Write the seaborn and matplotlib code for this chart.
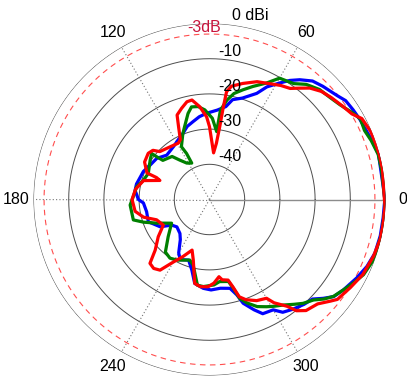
import numpy as np
import pandas as pd
import matplotlib
matplotlib.use("Agg")
import matplotlib.pyplot as plt
import seaborn as sns

# Measured gain patterns (angle in degrees, gain in dBi), listed in trace order
blue_deg = [0, 4, 15, 20, 28, 32, 36, 39, 45, 49, 53, 56, 59, 63, 66, 72, 77, 80, 85, 92,
            97, 102, 107, 112, 118, 124, 134, 142, 150, 157, 168, 173, 180, 183, 191, 200,
            209, 214, 220, 229, 234, 240, 244, 251, 256, 260, 266, 271, 277, 283, 286, 288,
            292, 295, 300, 303, 307, 312, 316, 319, 322, 326, 332, 337, 342, 348, 354, 360]
blue_db = [-0.2, -0.5, -0.3, -0.9, -1.6, -1.9, -2.2, -3.2, -4.5, -5.4, -7.4, -9.2, -11.4,
           -14.1, -17.0, -19.7, -20.9, -23.2, -24.5, -25.5, -26.3, -27.4, -28.3, -29.8,
           -30.9, -31.8, -32.5, -31.0, -30.5, -29.6, -28.8, -28.7, -29.8, -31.2, -31.8,
           -31.5, -34.0, -37.0, -37.9, -37.2, -35.9, -32.5, -31.0, -31.8, -29.3, -25.8,
           -24.7, -24.3, -24.6, -24.1, -21.8, -19.0, -16.2, -14.2, -13.8, -11.8, -10.9,
           -9.9, -9.3, -7.2, -5.2, -4.1, -2.6, -1.4, -0.6, -0.4, -0.4, -0.2]

green_deg = [0, 10, 15, 20, 24, 28, 31, 36, 40, 45, 50, 54, 60, 64, 69, 73, 77, 80, 83, 84,
             88, 93, 97, 101, 104, 109, 112, 118, 116.5, 116, 122, 127, 131, 140, 141,
             141.5, 146, 157, 164, 170, 178, 184, 195, 199, 204, 212, 222, 230, 236, 242,
             252, 256, 262, 266, 273, 277, 283, 285, 287, 290, 294, 298, 301, 305, 309,
             312, 316, 319, 322, 326, 330, 334, 339, 343, 349, 357, 360]
green_db = [-0.2, -0.4, -0.4, -1.1, -1.8, -1.4, -2.4, -4.2, -5.1, -5.8, -7.3, -9.3, -10.2,
            -13.2, -15.6, -17.4, -19.1, -21.3, -24.4, -30.6, -26.9, -24.5, -23.4, -23.2,
            -24.8, -28.2, -29.8, -33.0, -35.4, -38.5, -37.8, -36.0, -33.8, -32.7, -30.7,
            -29.0, -29.7, -31.1, -30.4, -29.0, -28.3, -27.4, -27.6, -30.2, -33.5, -37.3,
            -34.2, -30.5, -29.9, -30.5, -31.9, -30.8, -25.4, -25.2, -25.7, -26.5, -26.1,
            -23.9, -20.6, -18.7, -16.7, -15.5, -14.6, -13.4, -11.7, -10.3, -8.9, -6.9,
            -5.3, -4.1, -2.7, -1.3, -0.5, -0.4, -0.1, -0.1, -0.2]

red_deg = [0, 10, 15, 19, 23, 28, 31, 35, 40, 44, 48, 51, 54, 58, 62, 68, 74, 79, 81, 81.5,
           82, 83, 85, 88, 90, 92, 96, 100, 103, 107, 111, 113, 116, 119, 127, 136, 139,
           143, 150, 157, 157.5, 159, 164, 172, 180, 189, 195, 201, 209, 216, 223, 227,
           231, 235, 240, 245, 251, 255, 260, 264, 269, 273, 277, 279, 283, 285, 287, 290,
           295, 300, 302, 306, 308, 311, 316, 320, 322, 328, 334, 341, 347, 352, 358, 360]
red_db = [-0.3, -0.1, -0.1, -0.2, -0.3, -1.0, -2.8, -3.8, -4.9, -5.8, -7.4, -9.3, -11.0,
          -11.8, -12.8, -13.9, -15.7, -17.2, -19.0, -23.4, -29.1, -33.9, -36.7, -33.1,
          -29.3, -26.5, -23.5, -21.3, -21.5, -22.9, -24.3, -27.5, -31.1, -31.7, -31.3,
          -30.4, -28.7, -28.2, -28.7, -30.7, -33.7, -34.9, -30.5, -28.8, -28.0, -28.6,
          -30.6, -33.9, -35.0, -32.0, -28.9, -25.2, -24.8, -25.5, -29.5, -32.1, -34.8,
          -32.2, -25.8, -25.1, -25.2, -26.2, -27.9, -26.9, -26.5, -24.3, -21.1, -19.7,
          -18.3, -17.6, -15.4, -12.5, -9.9, -8.2, -7.3, -5.1, -3.9, -2.8, -1.5, -0.7,
          -0.2, -0.2, -0.1, -0.3]

ring_values = [-40, -30, -20, -10, 0]
ring_labels = ["-40", "-30", "-20", "-10", "0 dBi"]
spoke_angles = [0, 60, 120, 180, 240, 300]
spoke_labels = ["0", "60", "120", "180", "240", "300"]
r_min, r_max = -50, 0
half_power = -3

frames = []
for name, deg, db in [("blue", blue_deg, blue_db), ("green", green_deg, green_db),
                      ("red", red_deg, red_db)]:
    frames.append(pd.DataFrame({"theta": np.deg2rad(deg), "gain": db, "series": name}))
df = pd.concat(frames, ignore_index=True)

sns.set_style("white")
plt.rcParams["font.family"] = ["Liberation Sans", "DejaVu Sans"]

fig = plt.figure(figsize=(4.07, 3.79), dpi=100)
ax = fig.add_axes([33.5 / 407, 3.5 / 379, 352 / 407, 352 / 379], projection="polar")
ax.set_ylim(r_min, r_max)
ax.grid(False)
ax.set_xticks([])
ax.set_yticks([])
ax.spines["polar"].set_visible(False)

full = np.linspace(0, 2 * np.pi, 721)
for v in ring_values:
    ax.plot(full, np.full_like(full, v), color="0.3", lw=0.7, zorder=1)

# -3 dB reference circle
ax.plot(full, np.full_like(full, half_power), color="#ff4d4d", lw=0.8,
        linestyle=(0, (5, 4)), zorder=1)

# spokes: solid towards 0 deg, dotted elsewhere
ax.plot([0, 0], [r_min, r_max], color="0.55", lw=1.0, zorder=1)
for a in spoke_angles[1:]:
    ax.plot([np.deg2rad(a)] * 2, [r_min, r_max], color="0.45", lw=0.8,
            linestyle=(0, (1, 2)), zorder=1)

sns.lineplot(data=df, x="theta", y="gain", hue="series",
             hue_order=["blue", "green", "red"],
             palette={"blue": "#0000ff", "green": "#008000", "red": "#ff0000"},
             sort=False, estimator=None, legend=False, linewidth=2.3, ax=ax, zorder=3,
             solid_joinstyle="round", solid_capstyle="round")
ax.set_xlabel("")
ax.set_ylabel("")

for v, lab in zip(ring_values, ring_labels):
    dx = 22.5 if v == 0 else 8.5
    ax.annotate(lab, xy=(np.pi / 2, v), xytext=(dx, 7.5), textcoords="offset pixels",
                ha="left", va="center", fontsize=11.5, color="black",
                annotation_clip=False, zorder=4)

ax.annotate("-3dB", xy=(np.pi / 2, r_max), xytext=(-5.5, -3.5), textcoords="offset pixels",
            ha="center", va="center", fontsize=11.5, color="#c8143c",
            annotation_clip=False, zorder=4)

for a, lab in zip(spoke_angles, spoke_labels):
    ax.text(np.deg2rad(a), 4.8, lab, ha="center", va="center", fontsize=11.5,
            color="black", clip_on=False)

fig.savefig("out.png", dpi=100, facecolor="white")
